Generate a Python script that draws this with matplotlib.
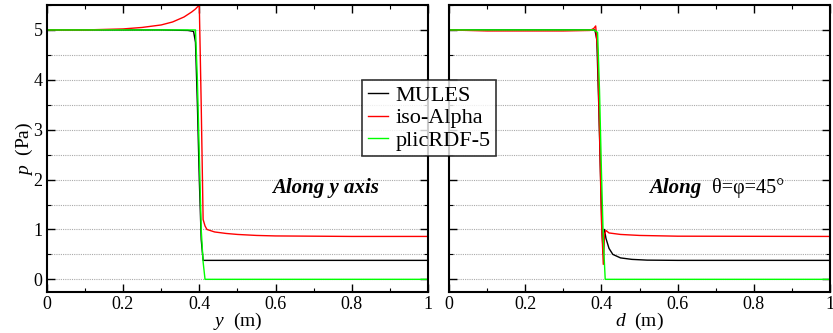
import matplotlib
matplotlib.use("Agg")
import matplotlib.pyplot as plt
from matplotlib.ticker import MultipleLocator

plt.rcParams['font.family'] = ['Liberation Serif', 'DejaVu Serif']
plt.rcParams['mathtext.fontset'] = 'custom'
plt.rcParams['mathtext.rm'] = 'Liberation Serif'
plt.rcParams['mathtext.it'] = 'Liberation Serif:italic'

# Left panel: along y axis
y_mules = [0.0, 0.1, 0.2, 0.3, 0.37, 0.385, 0.39, 0.395, 0.40, 0.405, 0.41, 0.42, 0.5, 0.7, 1.0]
p_mules = [5.0, 5.0, 5.0, 5.0, 4.99, 4.97, 4.75, 3.5, 2.0, 0.8, 0.38, 0.38, 0.38, 0.38, 0.38]

y_iso = [0.0, 0.1, 0.15, 0.2, 0.25, 0.3, 0.33, 0.36, 0.38, 0.39, 0.40, 0.405, 0.41, 0.415, 0.42, 0.44, 0.47, 0.5, 0.55, 0.6, 0.7, 0.8, 1.0]
p_iso = [5.0, 5.0, 5.01, 5.02, 5.05, 5.1, 5.16, 5.26, 5.36, 5.42, 5.5, 3.5, 1.2, 1.07, 1.0, 0.95, 0.92, 0.9, 0.88, 0.87, 0.865, 0.86, 0.86]

y_plic = [0.0, 0.2, 0.38, 0.39, 0.395, 0.40, 0.405, 0.41, 0.415, 0.5, 1.0]
p_plic = [5.0, 5.0, 5.0, 5.0, 4.0, 2.5, 1.0, 0.35, 0.0, 0.0, 0.0]

# Right panel: along theta=phi=45
d_mules = [0.0, 0.2, 0.37, 0.383, 0.388, 0.393, 0.398, 0.402, 0.405, 0.408, 0.412, 0.42, 0.43, 0.45, 0.48, 0.52, 0.6, 1.0]
q_mules = [5.0, 5.0, 5.0, 5.0, 4.8, 3.5, 2.0, 0.9, 0.5, 1.0, 0.82, 0.62, 0.5, 0.43, 0.4, 0.385, 0.38, 0.38]

d_iso = [0.0, 0.1, 0.2, 0.3, 0.37, 0.38, 0.385, 0.39, 0.395, 0.40, 0.405, 0.408, 0.412, 0.42, 0.45, 0.5, 0.6, 1.0]
q_iso = [5.0, 4.98, 4.98, 4.98, 4.99, 5.03, 5.08, 4.6, 3.0, 1.2, 0.3, 0.9, 0.98, 0.93, 0.9, 0.88, 0.865, 0.86]

d_plic = [0.0, 0.2, 0.38, 0.39, 0.395, 0.40, 0.405, 0.41, 0.5, 1.0]
q_plic = [5.0, 5.0, 5.0, 4.95, 3.8, 2.2, 0.8, 0.0, 0.0, 0.0]

labels = ['MULES', 'iso-Alpha', 'plicRDF-5']
colors = ['black', '#ff0000', '#00ff00']
xticks = [0, 0.2, 0.4, 0.6, 0.8, 1]
xticklabels = ['0', '0.2', '0.4', '0.6', '0.8', '1']
yticks = [0, 1, 2, 3, 4, 5]

fig = plt.figure(figsize=(8.33, 3.33), dpi=100)
W, H = 833.0, 333.0
ax1 = fig.add_axes([46.7 / W, 1 - 292.3 / H, 381.5 / W, 287.3 / H])
ax2 = fig.add_axes([449 / W, 1 - 292.3 / H, 381 / W, 287.3 / H])

for ax in (ax1, ax2):
    ax.set_xlim(0, 1)
    ax.set_ylim(-0.26, 5.5)
    for yy in [i * 0.5 for i in range(11)]:
        ax.axhline(yy, color='#aaaaaa', lw=0.8, ls=(0, (1, 1)), zorder=0)
    ax.set_xticks(xticks)
    ax.set_xticklabels(xticklabels)
    ax.xaxis.set_minor_locator(MultipleLocator(0.1))
    ax.set_yticks(yticks)
    ax.yaxis.set_minor_locator(MultipleLocator(0.5))
    ax.tick_params(which='both', direction='in', top=True, right=True, labelsize=13)
    ax.tick_params(which='major', length=6, width=1, pad=3)
    ax.tick_params(which='minor', length=3, width=0.8)
    for s in ax.spines.values():
        s.set_linewidth(1.5)

lines = []
for x, p, c in zip([y_mules, y_iso, y_plic], [p_mules, p_iso, p_plic], colors):
    l, = ax1.plot(x, p, color=c, lw=1.0)
    lines.append(l)
for x, p, c in zip([d_mules, d_iso, d_plic], [q_mules, q_iso, q_plic], colors):
    ax2.plot(x, p, color=c, lw=1.0)

ax2.set_yticklabels([])
ax1.set_ylabel(r'$\mathit{p}$  (Pa)', fontsize=14, labelpad=-1)
ax1.set_xlabel(r'$\mathit{y}$  (m)', fontsize=14, labelpad=-2)
ax2.set_xlabel(r'$\mathit{d}$  (m)', fontsize=14, labelpad=-2)

ax1.text(0.73, 1.83, 'Along y axis', fontsize=15, fontweight='bold', fontstyle='italic',
         ha='center', va='center')
ax2.text(0.525, 1.83, 'Along', fontsize=15, fontweight='bold', fontstyle='italic',
         ha='left', va='center')
ax2.text(0.69, 1.83, 'θ=φ=45°', fontsize=14.5, ha='left', va='center')

leg = fig.legend(lines, labels, loc='upper left', bbox_to_anchor=(362 / W, 1 - 80 / H),
                 fontsize=16, frameon=True, fancybox=False, edgecolor='black',
                 handlelength=0.9, handletextpad=0.35, labelspacing=0.08, borderpad=0.25,
                 borderaxespad=0)
leg.get_frame().set_linewidth(1.2)
leg.set_zorder(10)

fig.savefig('out.png', dpi=100)
